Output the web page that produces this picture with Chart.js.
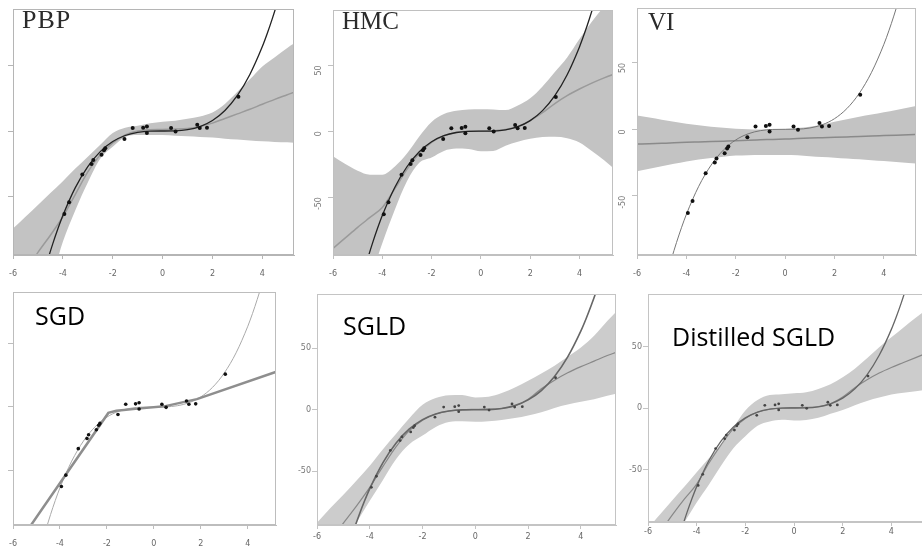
<!DOCTYPE html>
<html lang="en">
<head>
<meta charset="UTF-8">
<title>Toy regression: PBP, HMC, VI, SGD, SGLD, Distilled SGLD</title>
<script src="https://cdn.jsdelivr.net/npm/chart.js@4.4.0/dist/chart.umd.min.js"></script>
<style>
  body { margin: 0; width: 922px; height: 548px; overflow: hidden; background: #fff; position: relative; }
  canvas { position: absolute; }
  .ttl { position: absolute; white-space: nowrap; line-height: 1; }
  .serif { font-family: "Liberation Serif", serif; color: #2b2b2b; font-size: 25px; }
  .sans { font-family: "Open Sans", sans-serif; color: #000; font-size: 25px; }
</style>
</head>
<body>
<canvas id="pbp"></canvas>
<canvas id="hmc"></canvas>
<canvas id="vi"></canvas>
<canvas id="sgd"></canvas>
<canvas id="sgld"></canvas>
<canvas id="dsgld"></canvas>

<div class="ttl serif" style="left:22px;top:7px;font-size:26px;letter-spacing:1px">PBP</div>
<div class="ttl serif" style="left:342px;top:8px">HMC</div>
<div class="ttl serif" style="left:648px;top:9px">VI</div>
<div class="ttl sans" style="left:35px;top:303px">SGD</div>
<div class="ttl sans" style="left:343px;top:313px">SGLD</div>
<div class="ttl sans" style="left:672px;top:324px">Distilled SGLD</div>

<script>
// tick labels
const xTicks = [-6, -4, -2, 0, 2, 4];
const yTicks = [-50, 0, 50];

// observed training points (same in every panel)
const dataX = [-3.94, -3.75, -3.22, -2.85, -2.78, -2.45, -2.35, -2.3, -1.53, -1.2, -0.78, -0.63, -0.63, 0.34, 0.52, 1.39, 1.49, 1.78, 3.04];
const dataY = [-63, -54, -33, -25, -22, -18, -14.5, -13, -6, 2.2, 2.5, 3.4, -1.6, 2.2, -0.3, 4.7, 2.2, 2.5, 26];

// ground truth curve
const trueX = [-4.8, -4.6, -4.4, -4.2, -4, -3.5, -3, -2.5, -2, -1.5, -1, -0.5, 0, 0.5, 1, 1.5, 2, 2.5, 3, 3.5, 4, 4.2, 4.4, 4.6, 4.8];
const trueY = [-110.6, -97.3, -85.2, -74.1, -64, -42.9, -27, -15.6, -8, -3.4, -1, -0.1, 0, 0.1, 1, 3.4, 8, 15.6, 27, 42.9, 64, 74.1, 85.2, 97.3, 110.6];

// x grid used for the predictive mean and +-3sd bands
const bandX = [-6, -5.5, -5, -4.5, -4, -3.5, -3, -2.5, -2, -1.5, -1, -0.5, 0, 0.5, 1, 1.5, 2, 2.5, 3, 3.5, 4, 4.5, 5, 5.5];

const pbpMean  = [-118, -106, -92, -79, -65, -48, -31, -18, -9, -3, 0, 1, 1.2, 1.5, 2, 3.5, 6, 9.5, 13, 16.5, 20.3, 24, 27.5, 31];
const pbpUpper = [-74, -65, -56, -47, -38, -28.5, -19.5, -10.5, -1.5, 2.5, 4, 5.8, 7, 7.8, 9.3, 11, 14, 20.5, 29.7, 39.2, 49, 56, 63, 69];
const pbpLower = [-165, -150, -135, -115, -84, -60, -39, -21, -12, -4.5, -3, -3, -3, -3.5, -4, -4.5, -5, -5.8, -6.5, -7.2, -7.8, -8.3, -8.6, -9];

const hmcMean  = [-89, -81, -73, -65.5, -58, -44, -29, -17, -8.5, -3.5, -1, 0, 0, 0.3, 1.2, 3.5, 8, 14, 21, 27, 32, 36.5, 40.5, 44];
const hmcUpper = [-19, -25, -30, -33, -33, -27, -17, -4, 7, 13, 15.5, 16.5, 16.7, 16.5, 16, 19.5, 25, 34, 45, 56, 70, 83, 95, 108];
const hmcLower = [-160, -145, -130, -112, -85, -60, -38, -24, -20, -15, -13.2, -13.5, -15.3, -15, -11, -8, -5.8, -4.5, -4.3, -5.3, -8.5, -15, -22, -30];

const viMean  = [-11.1, -10.8, -10.5, -10.2, -9.8, -9.5, -9.2, -8.9, -8.6, -8.2, -7.9, -7.6, -7.3, -7, -6.6, -6.3, -6, -5.7, -5.4, -5, -4.7, -4.4, -4.1, -3.8];
const viUpper = [10.4, 8.8, 7.2, 5.6, 4.1, 3, 2, 1.2, 0.5, 0, -0.2, -0.2, 0.2, 0.9, 2, 3.5, 5.6, 7.6, 9.4, 11.1, 12.8, 14.6, 16.4, 18.3];
const viLower = [-31.6, -29.6, -27.8, -26, -24.2, -22.8, -21.6, -20.6, -19.8, -19.5, -19.3, -19.3, -19.3, -19.6, -20.3, -20.9, -21.4, -22, -22.6, -23.2, -23.9, -24.6, -25.3, -26];

// SGD point estimate (piecewise linear net)
const sgdX = [-5.3, -1.94, -1.6, -0.68, 0.44, 1.83, 5.3];
const sgdY = [-95.4, -4.7, -3, -1.3, 0.5, 6.2, 28.4];

const sgldMean  = [-120, -106, -92, -78, -63, -46, -30, -17, -8.5, -3.5, -1, 0, 0.3, 0.5, 1, 3, 8.5, 17, 24, 30, 35, 39.5, 44, 48];
const sgldUpper = [-91.8, -80, -69, -57.5, -45.5, -32, -19.5, -7, 4, 9.5, 11.8, 12, 10, 10.5, 13.5, 18, 23.5, 29.5, 35.8, 43, 50.5, 60, 72, 83];
const sgldLower = [-145, -126, -108, -91.5, -74, -57, -40, -28, -21, -14, -10, -9.3, -9.8, -9.3, -8.3, -6.8, -4.6, -2, 1.5, 4.3, 6.4, 8.5, 11.3, 14];

const dsgldMean  = [-115, -101, -87, -74, -62, -45, -30, -17, -8.5, -3.5, -1, 0, 0.3, 0.5, 1.2, 3.5, 9, 16.5, 23, 28.5, 33, 37, 41, 45];
const dsgldUpper = [-98, -86.5, -75, -64, -52.3, -41, -30, -16, -2, 6.5, 10.5, 11.2, 12, 12.8, 15.5, 19.3, 25, 32, 40.5, 49.5, 57.5, 65.5, 73.5, 81];
const dsgldLower = [-140, -124, -108, -93, -77, -62.5, -47, -33, -23, -14.5, -11, -9.6, -10.2, -9.8, -8, -4.7, -1.6, 2.3, 5.8, 8.5, 11, 12.5, 13.7, 14.8];

const pts = (xs, ys) => xs.map((x, i) => ({x: x, y: ys[i]}));

const framePlugin = {
    id: 'frame',
    afterDatasetsDraw(chart, args, opts) {
        const a = chart.chartArea;
        const ctx = chart.ctx;
        ctx.save();
        ctx.strokeStyle = opts.color;
        ctx.lineWidth = 1;
        ctx.strokeRect(a.left + 0.5, a.top + 0.5, a.right - a.left - 1, a.bottom - a.top - 1);
        ctx.restore();
    }
};

const Y_W = 22, X_H = 30;

function panel(id, box, o) {
    const canvas = document.getElementById(id);
    const w = box.r - box.l + Y_W, h = box.b - box.t + X_H;
    canvas.width = w;
    canvas.height = h;
    canvas.style.left = (box.l - Y_W) + 'px';
    canvas.style.top = box.t + 'px';
    canvas.style.width = w + 'px';
    canvas.style.height = h + 'px';

    // lower "order" is drawn on top
    const datasets = [];
    if (o.upper) {
        datasets.push({data: pts(bandX, o.upper), order: 5, fill: '+1', backgroundColor: o.band, borderWidth: 0, pointRadius: 0, cubicInterpolationMode: 'monotone'});
        datasets.push({data: pts(bandX, o.lower), order: 6, fill: false, borderWidth: 0, pointRadius: 0, cubicInterpolationMode: 'monotone'});
    }
    datasets.push({data: o.mean, order: 3, fill: false, borderColor: o.meanColor, borderWidth: o.meanWidth, pointRadius: 0,
                   cubicInterpolationMode: o.straight ? 'default' : 'monotone', tension: 0});
    datasets.push({data: pts(trueX, trueY), order: o.trueOnTop ? 2 : 4, fill: false, borderColor: o.trueColor, borderWidth: o.trueWidth, pointRadius: 0, cubicInterpolationMode: 'monotone'});
    datasets.push({data: pts(dataX, dataY), order: 1, showLine: false, pointRadius: o.dotR, pointBackgroundColor: o.dotColor, pointBorderWidth: 0});

    const tickFont = {family: 'DejaVu Sans', size: 8};
    new Chart(canvas, {
        type: 'line',
        data: {datasets: datasets},
        options: {
            responsive: false,
            animation: false,
            events: [],
            layout: {padding: 0},
            plugins: {legend: {display: false}, tooltip: {enabled: false}, frame: {color: o.frame}},
            scales: {
                x: {
                    type: 'linear', min: -6, max: box.xMax,
                    afterBuildTicks: s => { s.ticks = xTicks.map(v => ({value: v})); },
                    afterFit: s => { s.height = X_H; s.paddingLeft = 0; s.paddingRight = 0; },
                    grid: {drawOnChartArea: false, tickLength: 4, color: o.frame},
                    border: {color: o.frame},
                    ticks: {font: tickFont, color: '#666', padding: o.xPad, maxRotation: 0, minRotation: 0, callback: v => String(v)}
                },
                y: {
                    min: box.yMin, max: box.yMax,
                    afterBuildTicks: s => { s.ticks = yTicks.map(v => ({value: v})); },
                    afterFit: s => { s.width = Y_W; s.paddingTop = 0; s.paddingBottom = 0; },
                    grid: {drawOnChartArea: false, tickLength: 5, color: o.frame},
                    border: {color: o.frame},
                    ticks: {font: tickFont, color: o.yLabel, padding: o.rotY ? 9 : 1,
                            minRotation: o.rotY ? 90 : 0, maxRotation: o.rotY ? 90 : 0, callback: v => String(v)}
                }
            }
        },
        plugins: [framePlugin]
    });
}

const topBand = 'rgb(195,195,195)';
const botBand = 'rgb(204,204,204)';

panel('pbp', {l: 13, r: 298, t: 5, b: 255, xMax: 5.27, yMin: -94, yMax: 92.5}, {
    upper: pbpUpper, lower: pbpLower, band: topBand, mean: pts(bandX, pbpMean),
    meanColor: '#9a9a9a', meanWidth: 1.5, trueColor: '#222', trueWidth: 1.3, trueOnTop: true,
    dotR: 2, dotColor: '#111', frame: '#b5b5b5', yLabel: 'rgba(0,0,0,0)', rotY: false, xPad: 10
});
panel('hmc', {l: 333, r: 617, t: 6, b: 255, xMax: 5.36, yMin: -94, yMax: 92}, {
    upper: hmcUpper, lower: hmcLower, band: topBand, mean: pts(bandX, hmcMean),
    meanColor: '#9a9a9a', meanWidth: 1.5, trueColor: '#222', trueWidth: 1.3, trueOnTop: true,
    dotR: 2, dotColor: '#111', frame: '#c0c0c0', yLabel: '#777', rotY: true, xPad: 10
});
panel('vi', {l: 637, r: 920, t: 4, b: 255, xMax: 5.3, yMin: -94.6, yMax: 91.3}, {
    upper: viUpper, lower: viLower, band: topBand, mean: pts(bandX, viMean),
    meanColor: '#8a8a8a', meanWidth: 1.5, trueColor: '#777', trueWidth: 1, trueOnTop: true,
    dotR: 2, dotColor: '#111', frame: '#c0c0c0', yLabel: '#777', rotY: true, xPad: 10
});
panel('sgd', {l: 13, r: 280, t: 288, b: 525, xMax: 5.2, yMin: -93.5, yMax: 91.1}, {
    mean: pts(sgdX, sgdY), straight: true,
    meanColor: '#8e8e8e', meanWidth: 2.5, trueColor: '#aaa', trueWidth: 1, trueOnTop: false,
    dotR: 1.8, dotColor: '#111', frame: '#bdbdbd', yLabel: 'rgba(0,0,0,0)', rotY: false, xPad: 10
});
panel('sgld', {l: 317, r: 620, t: 290, b: 525, xMax: 5.33, yMin: -93.6, yMax: 94}, {
    upper: sgldUpper, lower: sgldLower, band: botBand, mean: pts(bandX, sgldMean),
    meanColor: '#888', meanWidth: 1.2, trueColor: '#666', trueWidth: 1.6, trueOnTop: true,
    dotR: 1.4, dotColor: '#444', frame: '#c4c4c4', yLabel: '#777', rotY: false, xPad: 3
});
panel('dsgld', {l: 648, r: 927, t: 290, b: 522, xMax: 5.3, yMin: -92.8, yMax: 92.8}, {
    upper: dsgldUpper, lower: dsgldLower, band: botBand, mean: pts(bandX, dsgldMean),
    meanColor: '#888', meanWidth: 1.2, trueColor: '#666', trueWidth: 1.3, trueOnTop: true,
    dotR: 1.4, dotColor: '#444', frame: '#c4c4c4', yLabel: '#777', rotY: false, xPad: 1
});
</script>
</body>
</html>
